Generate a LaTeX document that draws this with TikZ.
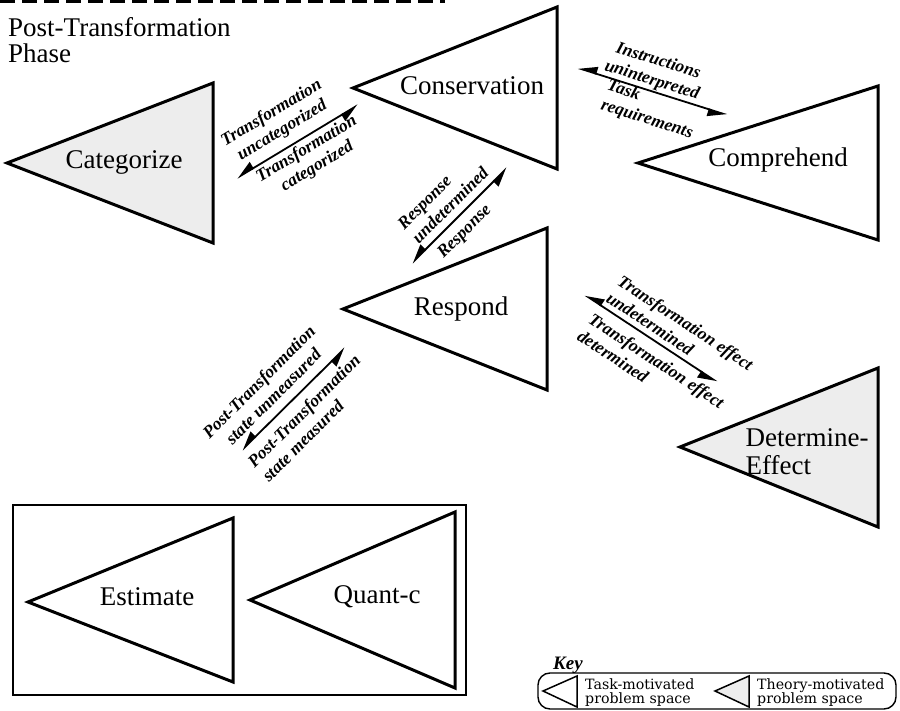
\documentclass[tikz,border=0pt]{standalone}
\usepackage{fontspec}
\setmainfont{Liberation Serif}
\newfontfamily\keyfont{DejaVu Serif}
\usetikzlibrary{arrows.meta}
\begin{document}
\begin{tikzpicture}[x=1pt,y=-1pt,
  tri/.style={line width=3pt, line join=miter},
  theory/.style={fill=black!7},
  lbl/.style={font=\fontsize{27}{28}\selectfont, inner sep=0pt},
  arrlbl/.style={font=\fontsize{17.5}{20.5}\selectfont\bfseries\itshape, inner sep=0pt},
  keytxt/.style={font=\keyfont\fontsize{14.2}{14}\selectfont, align=left, inner sep=0pt, anchor=west},
  twoway/.style={line width=1.8pt,
    {Triangle[harpoon,swap,length=17pt,width=14pt]}-{Triangle[harpoon,swap,length=17pt,width=14pt]}}
]
\useasboundingbox (0,0) rectangle (900,711);

% top dashed rule
\draw[line width=3pt, dash pattern=on 15pt off 7pt] (0,2) -- (445,2);

% title
\node[anchor=base west, font=\fontsize{27}{27}\selectfont, inner sep=0pt] (title1) at (8,37) {Post-Transformation};
\node[anchor=base west, font=\fontsize{27}{27}\selectfont, inner sep=0pt] (title2) at (8,63) {Phase};

% problem spaces
\draw[tri,theory] (7,163) -- (213,83) -- (213,243) -- cycle;
\node[lbl] (categorize) at (124,162) {Categorize};

\draw[tri] (353,88) -- (557,7) -- (557,169) -- cycle;
\node[lbl] (conservation) at (472,86) {Conservation};

\draw[tri] (638,163) -- (878,86) -- (878,240) -- cycle;
\node[lbl] (comprehend) at (778,160) {Comprehend};

\draw[tri] (343,309) -- (547,228) -- (547,390) -- cycle;
\node[lbl] (respond) at (461,309) {Respond};

\draw[tri,theory] (680,447) -- (878,368) -- (878,527) -- cycle;
\node[lbl, align=left] (determine) at (807,452) {Determine-\\Effect};

% estimate box
\draw[line width=1.4pt] (13,505) rectangle (466,695);
\draw[tri] (28,602) -- (233,518) -- (233,682) -- cycle;
\node[lbl] (estimate) at (147,597) {Estimate};
\draw[tri] (250,600) -- (455,512) -- (455,688) -- cycle;
\node[lbl] (quantc) at (377,597) {Quant-c};

% connectors
\coordinate (a1s) at (237,178); \coordinate (a1e) at (358,105);
\coordinate (a2s) at (578,68);  \coordinate (a2e) at (727,115);
\coordinate (a3s) at (412,263); \coordinate (a3e) at (507,168);
\coordinate (a4s) at (585,295); \coordinate (a4e) at (717,382);
\coordinate (a5s) at (242,450); \coordinate (a5e) at (345,348);
\draw[twoway] (a1s) -- (a1e);
\draw[twoway] (a2s) -- (a2e);
\draw[twoway] (a3s) -- (a3e);
\draw[twoway] (a4s) -- (a4e);
\draw[twoway] (a5s) -- (a5e);

% connector labels
\node[arrlbl, align=center, rotate=31] (l1u) at (277,122) {Transformation\\uncategorized};
\node[arrlbl, align=center, rotate=31] (l1l) at (312,158) {Transformation\\categorized};
\node[arrlbl, align=center, rotate=-17.5] (l2u) at (655,71) {Instructions\\uninterpreted};
\node[arrlbl, align=left, rotate=-17.5] (l2l) at (650,110) {Task\\requirements};
\node[arrlbl, align=left, rotate=45] (l3u) at (443,198) {Response\\undetermined};
\node[arrlbl, rotate=45] (l3l) at (465,232) {Response};
\node[arrlbl, align=left, rotate=-33.4] (l4u) at (680,331) {Transformation effect\\undetermined};
\node[arrlbl, align=left, rotate=-33.4] (l4l) at (651,369) {Transformation effect\\determined};
\node[arrlbl, align=center, rotate=45] (l5u) at (266,389) {Post-Transformation\\state unmeasured};
\node[arrlbl, align=left, rotate=45] (l5l) at (311,418) {Post-Transformation\\state measured};

% key
\node[font=\fontsize{19}{19}\selectfont\bfseries\itshape, anchor=base west, inner sep=0pt] (keytitle) at (553,669) {Key};
\draw[line width=1.4pt, rounded corners=12pt] (538,673) rectangle (896,709);
\draw[line width=1.5pt] (543,691) -- (577,676) -- (577,707) -- cycle;
\node[keytxt] (k1) at (585,693) {Task-motivated\\problem space};
\draw[line width=1.5pt, theory] (715,691) -- (749,676) -- (749,707) -- cycle;
\node[keytxt] (k2) at (757,693) {Theory-motivated\\problem space};
\end{tikzpicture}
\end{document}
